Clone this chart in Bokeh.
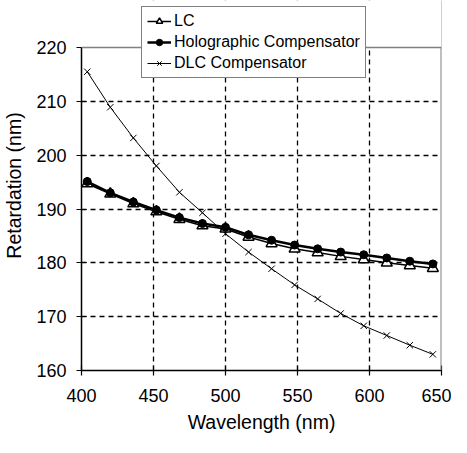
from bokeh.plotting import figure
from bokeh.models import FixedTicker, Legend, LegendItem, Range1d, BoxAnnotation, Span
from bokeh.embed import file_html
from bokeh.resources import INLINE

wavelength = [404, 420, 436, 452, 468, 484, 500, 516, 532, 548, 564, 580, 596, 612, 628, 644]
lc = [194.7, 192.8, 191.0, 189.5, 188.1, 186.9, 186.3, 184.8, 183.6, 182.6, 181.9, 181.2, 180.6, 180.0, 179.5, 179.0]
holo = [195.1, 193.0, 191.3, 189.8, 188.4, 187.3, 186.6, 185.2, 184.2, 183.3, 182.6, 182.0, 181.5, 180.9, 180.3, 179.8]
dlc = [215.5, 208.9, 203.2, 198.0, 193.1, 189.3, 185.4, 182.0, 178.9, 175.9, 173.3, 170.6, 168.3, 166.5, 164.7, 163.0]

x_ticks = [400, 450, 500, 550, 600, 650]
y_ticks = [160, 170, 180, 190, 200, 210, 220]
x_min, x_max = 400, 650
y_min, y_max = 160, 220

FONT = "Liberation Sans"

# layout: the frame reaches the top of the canvas so the legend can overlap the 220 line
FRAME_H = 370          # frame height in px (canvas 437 - bottom border 67)
TOP_GAP = 47           # px between frame top and the y = 220 line
y_top = y_max + TOP_GAP * (y_max - y_min) / (FRAME_H - TOP_GAP)

p = figure(width=451, height=437, output_backend="svg", toolbar_location=None,
           x_range=Range1d(x_min, x_max), y_range=Range1d(y_min, y_top),
           min_border_left=80, min_border_right=10, min_border_top=0, min_border_bottom=67)

p.background_fill_color = "white"
p.border_fill_color = "white"
p.outline_line_color = None

p.xaxis.ticker = FixedTicker(ticks=x_ticks)
p.yaxis.ticker = FixedTicker(ticks=y_ticks)
p.yaxis.bounds = (y_min, y_max)
p.xgrid.ticker = FixedTicker(ticks=x_ticks[1:-1])
p.ygrid.ticker = FixedTicker(ticks=y_ticks[1:-1])
for g in (p.xgrid, p.ygrid):
    g.grid_line_color = "black"
    g.grid_line_dash = "5 4"
    g.grid_line_width = 1.3

for ax in (p.xaxis, p.yaxis):
    ax.axis_line_color = "black"
    ax.axis_line_width = 1.5
    ax.major_tick_line_color = "black"
    ax.major_tick_line_width = 1.2
    ax.major_tick_in = 5
    ax.major_tick_out = 5
    ax.minor_tick_line_color = None
    ax.major_label_text_font = FONT
    ax.major_label_text_font_size = "18px"
    ax.major_label_text_color = "black"
    ax.axis_label_text_font = FONT
    ax.axis_label_text_font_size = "19.5px"
    ax.axis_label_text_font_style = "normal"
    ax.axis_label_text_color = "black"

p.xaxis.axis_label = "Wavelength (nm)"
p.yaxis.axis_label = "Retardation (nm)"
p.xaxis.major_label_standoff = 13
p.yaxis.major_label_standoff = 10
p.xaxis.axis_label_standoff = 6
p.yaxis.axis_label_standoff = 8

# DLC compensator
dl = p.line(wavelength, dlc, line_color="black", line_width=1)
dm = p.scatter(wavelength, dlc, marker="x", size=9, line_color="black", line_width=1)

# LC
ll = p.line(wavelength, lc, line_color="black", line_width=1.5)
lm = p.scatter(wavelength, lc, marker="triangle", size=11, line_color="black",
               fill_color="white", line_width=1.5)

# Holographic compensator
hl = p.line(wavelength, holo, line_color="black", line_width=2.5)
hm = p.scatter(wavelength, holo, marker="circle", size=8, line_color="black",
               fill_color="black")

# plot-area border (right side), white mask above y = 220, top border line
p.add_layout(Span(location=x_max, dimension="height", line_color="#808080", line_width=2))
p.add_layout(BoxAnnotation(bottom=y_max, fill_color="white", fill_alpha=1.0, line_color=None))
p.add_layout(Span(location=y_max, dimension="width", line_color="#808080", line_width=1.5))

legend = Legend(items=[
    LegendItem(label="LC", renderers=[ll, lm]),
    LegendItem(label="Holographic Compensator", renderers=[hl, hm]),
    LegendItem(label="DLC Compensator", renderers=[dl, dm]),
], location=(60, FRAME_H - 78))
legend.label_text_font = FONT
legend.label_text_font_size = "16px"
legend.label_text_color = "black"
legend.border_line_color = "black"
legend.border_line_width = 1.5
legend.background_fill_color = "white"
legend.background_fill_alpha = 1
legend.glyph_width = 24
legend.glyph_height = 16
legend.label_standoff = 3
legend.label_height = 16
legend.spacing = 3
legend.padding = 5
legend.margin = 0
p.add_layout(legend, "center")

open("out.html", "w").write(file_html(p, INLINE))
